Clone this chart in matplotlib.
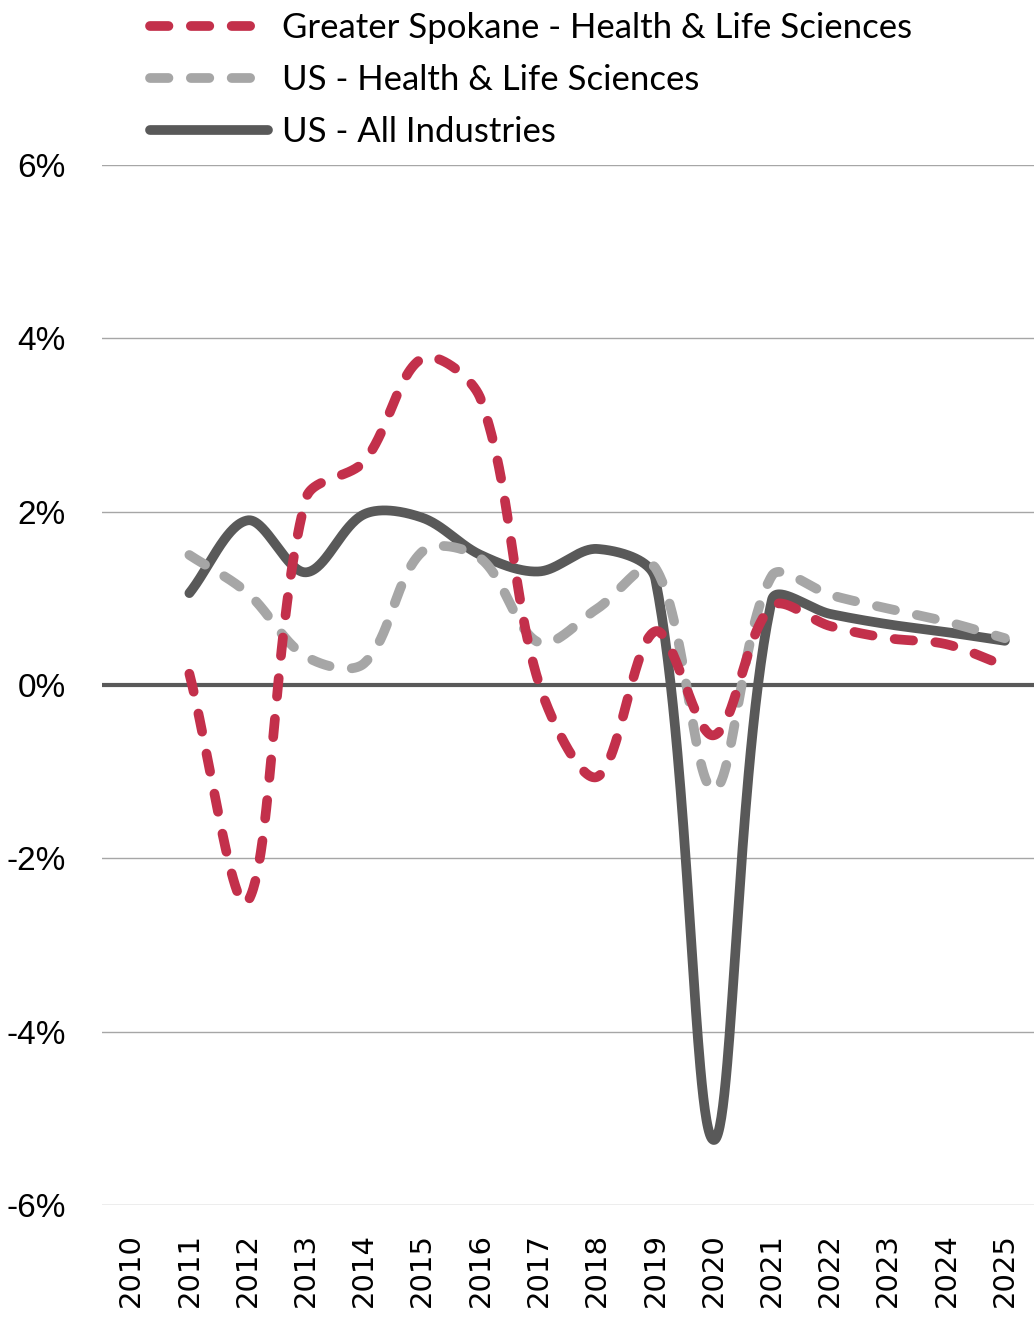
import numpy as np
import matplotlib
matplotlib.use("Agg")
import matplotlib.pyplot as plt
from matplotlib.lines import Line2D

years = [str(y) for y in range(2010, 2026)]
data_years = list(range(2011, 2026))
spokane = [0.13, -2.50, 2.15, 2.58, 3.77, 3.30, 0.02, -1.06, 0.62, -0.58, 0.91, 0.68, 0.54, 0.47, 0.22]
us_health = [1.50, 1.06, 0.33, 0.25, 1.54, 1.46, 0.49, 0.88, 1.35, -1.21, 1.26, 1.04, 0.88, 0.73, 0.54]
us_all = [1.06, 1.90, 1.30, 1.97, 1.93, 1.50, 1.31, 1.57, 1.22, -5.25, 0.98, 0.82, 0.70, 0.61, 0.51]
labels = ["Greater Spokane - Health & Life Sciences", "US - Health & Life Sciences", "US - All Industries"]
yticks = [-6, -4, -2, 0, 2, 4, 6]

RED = "#C3304B"
LGRAY = "#A6A6A6"
DGRAY = "#595959"

# pixel scale used only to weight the spline control arms (screen-space smoothing)
SX, SY = 58.25, 86.7


def smooth(xs, ys, n=60):
    P = np.column_stack([np.asarray(xs, float) * SX, np.asarray(ys, float) * SY])
    m = len(P)
    fwd = np.zeros_like(P)
    back = np.zeros_like(P)
    for i in range(m):
        pp = P[i - 1] if i > 0 else P[i]
        pn = P[i + 1] if i < m - 1 else P[i]
        d = pn - pp
        lb = np.hypot(*(P[i] - pp))
        lf = np.hypot(*(pn - P[i]))
        tot = lb + lf if lb + lf > 0 else 1.0
        fwd[i] = P[i] + d * (lf / tot) / 3.0
        back[i] = P[i] - d * (lb / tot) / 3.0
    out = []
    for i in range(m - 1):
        p1, p2 = P[i], P[i + 1]
        c1, c2 = fwd[i], back[i + 1]
        t = np.linspace(0, 1, n, endpoint=(i == m - 2))[:, None]
        seg = ((1 - t) ** 3) * p1 + 3 * ((1 - t) ** 2) * t * c1 + 3 * (1 - t) * t ** 2 * c2 + t ** 3 * p2
        out.append(seg)
    out = np.vstack(out)
    return out[:, 0] / SX, out[:, 1] / SY


fig = plt.figure(figsize=(10.34, 13.2), dpi=100)
ax = fig.add_axes([102 / 1034, 1 - 1205 / 1320, 932 / 1034, (1205 - 165) / 1320])

xidx = [years.index(str(y)) for y in data_years]
lw = 7.0
dash = (1.9, 2.3)

for v in yticks:
    if v == 0:
        continue
    ax.axhline(v, color="#A6A6A6", lw=1.0, zorder=1)
ax.axhline(0, color=DGRAY, lw=3.0, zorder=2)

sx, sy = smooth(xidx, us_all)
ax.plot(sx, sy, color=DGRAY, lw=lw, solid_capstyle="round", solid_joinstyle="round", zorder=3)
sx, sy = smooth(xidx, us_health)
ax.plot(sx, sy, color=LGRAY, lw=lw, linestyle=(0, dash), dash_capstyle="round", zorder=4)
sx, sy = smooth(xidx, spokane)
ax.plot(sx, sy, color=RED, lw=lw, linestyle=(0, dash), dash_capstyle="round", zorder=5)

ax.set_xlim(-0.5, len(years) - 0.5)
ax.set_ylim(-6, 6)
ax.set_yticks(yticks)
ax.set_yticklabels([f"{v}%" for v in yticks], fontsize=24,
                   family=["Liberation Sans", "DejaVu Sans"])
ax.set_xticks(range(len(years)))
ax.set_xticklabels(years, rotation=90, fontsize=21, family=["DejaVu Sans"])
ax.tick_params(axis="both", length=0)
ax.tick_params(axis="y", pad=26)
ax.tick_params(axis="x", pad=20)
for s in ax.spines.values():
    s.set_visible(False)

handles = [
    Line2D([], [], color=RED, lw=lw, linestyle=(0, dash), dash_capstyle="round"),
    Line2D([], [], color=LGRAY, lw=lw, linestyle=(0, dash), dash_capstyle="round"),
    Line2D([], [], color=DGRAY, lw=lw, solid_capstyle="round"),
]
leg = fig.legend(handles, labels, loc="upper left", bbox_to_anchor=(150 / 1034, 1 - 12 / 1320),
                 frameon=False, handlelength=3.4, handletextpad=0.4,
                 labelspacing=0.58, borderaxespad=0, borderpad=0,
                 prop={"family": ["Lato", "Roboto", "DejaVu Sans"], "size": 25})

fig.savefig("out.png", dpi=100)
